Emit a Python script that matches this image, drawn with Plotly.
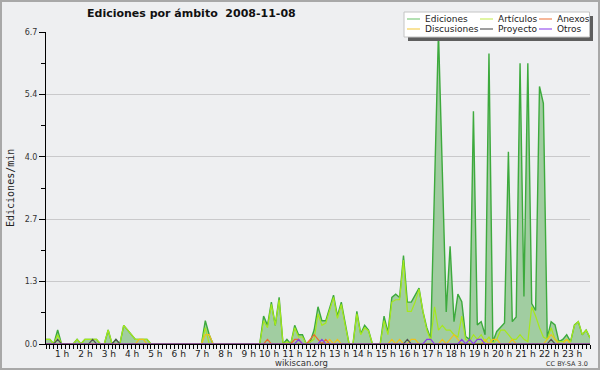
import plotly.graph_objects as go

# ---------------- data (10-minute slots, 2008-11-08) ----------------
TIME_SLOTS = list(range(141))  # slot index, 10 minutes each

ediciones = [
    0.1, 0.1, 0, 0.3, 0, 0, 0, 0, 0.1, 0,
    0.1, 0.1, 0.1, 0.1, 0, 0, 0.3, 0, 0.1, 0,
    0.4, 0.3, 0.2, 0.1, 0.1, 0.1, 0.1, 0, 0, 0,
    0, 0, 0, 0, 0, 0, 0, 0, 0, 0,
    0, 0.5, 0.2, 0, 0, 0, 0, 0, 0, 0,
    0, 0, 0, 0, 0, 0, 0.6, 0.4, 0.9, 0.4,
    1.0, 0, 0.1, 0, 0.4, 0.2, 0.2, 0, 0.05, 0.3,
    0.8, 0.5, 0.5, 0.75, 1.05, 0.6, 0.9, 0.45, 0, 0,
    0.7, 0.22, 0.4, 0.3, 0, 0, 0, 0.6, 0.25, 1.0,
    1.07, 1.0, 1.9, 0.9, 0.9, 1.05, 1.2, 0.7, 0.35, 0.12,
    3.4, 6.7, 3.7, 0.69, 2.1, 0.48, 1.07, 0.91, 0.16, 0.1,
    5.0, 0.41, 0.48, 0.2, 6.24, 0.05, 0.27, 0.35, 0.45, 4.13,
    0.48, 0.58, 6.03, 1.02, 6.03, 0.87, 0.72, 5.53, 5.17, 0.13,
    0.48, 0.41, 0.05, 0.1, 0.2, 0.05, 0.41, 0.48, 0.2, 0.3,
    0.13,
]

articulos = [
    0.1, 0.1, 0, 0.2, 0, 0, 0, 0, 0.1, 0,
    0.1, 0.1, 0.1, 0.1, 0, 0, 0.3, 0, 0, 0,
    0.4, 0.3, 0.2, 0.1, 0.1, 0.1, 0.1, 0, 0, 0,
    0, 0, 0, 0, 0, 0, 0, 0, 0, 0,
    0, 0.35, 0, 0, 0, 0, 0, 0, 0, 0,
    0, 0, 0, 0, 0, 0, 0.5, 0.35, 0.85, 0.4,
    0.95, 0, 0.05, 0, 0.35, 0.15, 0.15, 0, 0.05, 0.1,
    0.65, 0.4, 0.45, 0.7, 1.0, 0.55, 0.85, 0.4, 0, 0,
    0.65, 0.2, 0.35, 0.28, 0, 0, 0, 0.5, 0.2, 0.9,
    0.95, 0.95, 1.8, 0.7, 0.7, 0.9, 1.18, 0.7, 0.3, 0.08,
    0.8, 0.3, 0.4, 0.3, 0.3, 0.2, 0.15, 0.6, 0.1, 0.05,
    0.2, 0.1, 0.2, 0.05, 0.15, 0, 0.1, 0.3, 0.3, 0.2,
    0.1, 0.1, 0.2, 0.1, 0.05, 0.8, 0.6, 0.35, 0.15, 0.1,
    0.35, 0.1, 0.05, 0.05, 0.1, 0.05, 0.4, 0.48, 0.2, 0.3,
    0.13,
]

anexos = [
    0, 0, 0, 0, 0, 0, 0, 0, 0, 0, 0, 0, 0, 0, 0, 0, 0, 0, 0, 0,
    0, 0, 0, 0, 0, 0, 0, 0, 0, 0, 0, 0, 0, 0, 0, 0, 0, 0, 0, 0,
    0, 0, 0, 0, 0, 0, 0, 0, 0, 0, 0, 0, 0, 0, 0, 0, 0, 0.1, 0, 0,
    0, 0, 0, 0, 0.1, 0.1, 0, 0, 0.1, 0.2, 0.1, 0, 0.1, 0, 0, 0, 0, 0, 0, 0,
    0, 0, 0, 0, 0, 0, 0, 0, 0, 0, 0, 0, 0, 0, 0, 0, 0, 0, 0, 0,
    0, 0, 0, 0, 0, 0, 0, 0, 0, 0, 0, 0, 0, 0, 0, 0, 0, 0, 0, 0,
    0, 0, 0, 0, 0, 0, 0, 0, 0, 0, 0, 0, 0, 0, 0, 0, 0, 0, 0, 0,
    0,
]

discusiones = [
    0, 0, 0, 0, 0, 0, 0, 0, 0, 0, 0, 0, 0, 0, 0, 0, 0, 0, 0, 0,
    0, 0, 0, 0, 0.1, 0.1, 0, 0, 0, 0, 0, 0, 0, 0, 0, 0, 0, 0, 0, 0,
    0, 0.2, 0.2, 0, 0, 0, 0, 0, 0, 0, 0, 0, 0, 0, 0, 0, 0, 0, 0, 0,
    0, 0, 0, 0, 0, 0, 0, 0, 0, 0, 0, 0, 0, 0.1, 0, 0.1, 0, 0, 0, 0,
    0, 0, 0, 0, 0, 0, 0, 0, 0, 0.1, 0, 0.1, 0, 0, 0.1, 0.1, 0, 0, 0, 0,
    0, 0, 0.1, 0, 0.1, 0.2, 0.1, 0, 0, 0, 0, 0, 0, 0.1, 0, 0.1, 0.1, 0, 0, 0,
    0.1, 0, 0, 0, 0, 0, 0, 0, 0, 0.1, 0.2, 0.1, 0, 0, 0.1, 0, 0, 0, 0, 0,
    0,
]

proyecto = [
    0, 0, 0, 0.1, 0, 0, 0, 0, 0, 0, 0, 0, 0.1, 0, 0, 0, 0, 0, 0.1, 0,
    0, 0, 0, 0, 0, 0, 0, 0, 0, 0, 0, 0, 0, 0, 0, 0, 0, 0, 0, 0,
    0, 0, 0, 0, 0, 0, 0, 0, 0, 0, 0, 0, 0, 0, 0, 0, 0, 0, 0, 0,
    0, 0, 0, 0, 0, 0, 0, 0, 0, 0, 0, 0, 0, 0, 0, 0, 0, 0, 0, 0,
    0, 0, 0, 0, 0, 0, 0, 0, 0, 0, 0, 0, 0, 0.1, 0, 0, 0, 0, 0, 0,
    0, 0, 0, 0, 0, 0, 0, 0, 0, 0, 0, 0, 0, 0, 0, 0, 0, 0, 0, 0,
    0, 0, 0, 0, 0, 0, 0, 0, 0, 0, 0.1, 0, 0, 0, 0, 0, 0, 0, 0, 0,
    0,
]

otros = [
    0, 0, 0, 0, 0, 0, 0, 0, 0, 0, 0, 0, 0, 0, 0, 0, 0, 0, 0, 0,
    0, 0, 0, 0, 0, 0, 0, 0, 0, 0, 0, 0, 0, 0, 0, 0, 0, 0, 0, 0,
    0, 0, 0, 0, 0, 0, 0, 0, 0, 0, 0, 0, 0, 0, 0, 0, 0, 0, 0, 0,
    0, 0, 0, 0, 0, 0.1, 0, 0, 0, 0, 0, 0.1, 0, 0, 0, 0, 0, 0, 0, 0,
    0, 0, 0, 0, 0, 0, 0, 0, 0, 0, 0, 0, 0, 0, 0, 0, 0, 0, 0.1, 0.1,
    0, 0, 0, 0, 0, 0, 0, 0.1, 0, 0.1, 0, 0.1, 0.1, 0, 0, 0, 0, 0, 0, 0,
    0, 0, 0, 0, 0, 0, 0, 0, 0, 0, 0, 0, 0, 0, 0, 0, 0, 0, 0, 0,
    0,
]

HOUR_VALS = list(range(1, 24))
HOUR_LABELS = ["1 h", "2 h", "3 h", "4 h", "5 h", "6 h", "7 h", "8 h", "9 h", "10 h",
               "11 h", "12 h", "13 h", "14 h", "15 h", "16 h", "17 h", "18 h", "19 h",
               "20 h", "21 h", "22 h", "23 h"]
Y_TICK_VALS = [0, 1.34, 2.68, 4.02, 5.36, 6.7]
Y_TICK_TEXT = ["0.0", "1.3", "2.7", "4.0", "5.4", "6.7"]

SERIES_NAMES = ["Ediciones", "Artículos", "Anexos", "Discusiones", "Proyecto", "Otros"]

# ---------------- styling ----------------
W, H = 600, 370
L, R, T, B = 46, 10, 32, 26
PW, PH = W - L - R, H - T - B
BG = "#EEEFF1"

LINE_COLORS = {"Ediciones": "#3DAA3D", "Artículos": "#A6E81C", "Anexos": "#EE6A2C",
               "Discusiones": "#EEC21E", "Proyecto": "#505050", "Otros": "#8A3CE6"}
LEGEND_COLORS = {"Ediciones": "#80CC80", "Artículos": "#CCEE66", "Anexos": "#F08858",
                 "Discusiones": "#F6D058", "Proyecto": "#606060", "Otros": "#9A55EE"}


def px(xp):
    return (xp - L) / PW


def py(yp):
    return (H - B - yp) / PH


x_hours = [s / 6 for s in TIME_SLOTS]
# labels end at their hour tick: pad one-digit labels to the width of two-digit ones
tick_text = [("\u2007" + t) if len(t) == 3 else t for t in HOUR_LABELS]

fig = go.Figure()
fig.add_trace(go.Scatter(x=x_hours, y=ediciones, mode="lines", name="Ediciones",
                         line=dict(color=LINE_COLORS["Ediciones"], width=1.4),
                         fill="tozeroy", fillcolor="#A1CDA1", hoverinfo="skip"))
for name, vals in [("Artículos", articulos), ("Discusiones", discusiones),
                   ("Anexos", anexos), ("Proyecto", proyecto), ("Otros", otros)]:
    fig.add_trace(go.Scatter(x=x_hours, y=vals, mode="lines", name=name,
                             line=dict(color=LINE_COLORS[name], width=1.2),
                             hoverinfo="skip"))

fig.update_layout(
    width=W, height=H, autosize=False,
    margin=dict(l=L, r=R, t=T, b=B, pad=0),
    paper_bgcolor=BG, plot_bgcolor=BG, showlegend=False,
    font=dict(family="DejaVu Sans", size=9, color="#222"),
)
fig.update_xaxes(
    range=[0, 140 / 6], showgrid=False, zeroline=False,
    showline=True, linecolor="black", linewidth=1,
    tickmode="array", tickvals=HOUR_VALS, ticktext=tick_text,
    ticks="outside", ticklen=4, tickcolor="black", tickwidth=1,
    tickfont=dict(family="DejaVu Sans", size=9, color="#222"),
    ticklabelshift=-10, ticklabelstandoff=-3,
    minor=dict(dtick=1 / 6, tick0=0, ticks="outside", ticklen=4,
               tickcolor="black", showgrid=False),
)
fig.update_yaxes(
    range=[0, 6.7], tickmode="array", tickvals=Y_TICK_VALS, ticktext=Y_TICK_TEXT,
    showgrid=True, gridcolor="#C9C9CB", gridwidth=1, zeroline=False,
    showline=True, linecolor="black", linewidth=1,
    ticks="outside", ticklen=6, tickcolor="black",
    tickfont=dict(family="DejaVu Sans", size=8, color="#333"),
    minor=dict(dtick=0.67, tick0=0, ticks="outside", ticklen=4,
               tickcolor="black", showgrid=False),
)

shapes = []
annotations = []

# outer frame
shapes.append(dict(type="rect", xref="paper", yref="paper",
                   x0=px(1), x1=px(599), y0=py(1), y1=py(369),
                   line=dict(color="#A8A8A8", width=2), layer="above"))

# legend box with shadow
shapes.append(dict(type="rect", xref="paper", yref="paper",
                   x0=px(408), x1=px(593), y0=py(16), y1=py(41),
                   fillcolor="#5E5E5E", line=dict(width=0), layer="above"))
shapes.append(dict(type="rect", xref="paper", yref="paper",
                   x0=px(404), x1=px(589.5), y0=py(12), y1=py(37),
                   fillcolor="white", line=dict(color="#C4C4C4", width=1), layer="above"))

legend_layout = [("Ediciones", 407, 19), ("Artículos", 480, 19), ("Anexos", 539, 19),
                 ("Discusiones", 407, 29), ("Proyecto", 480, 29), ("Otros", 539, 29)]
for name, lx, ly in legend_layout:
    shapes.append(dict(type="line", xref="paper", yref="paper",
                       x0=px(lx), x1=px(lx + 13), y0=py(ly), y1=py(ly),
                       line=dict(color=LEGEND_COLORS[name], width=1.2), layer="above"))
    annotations.append(dict(xref="paper", yref="paper", x=px(lx + 16), y=py(ly),
                            text=name, showarrow=False, xanchor="left", yanchor="middle",
                            font=dict(family="DejaVu Sans", size=9, color="#222")))

# title
annotations.append(dict(xref="paper", yref="paper", x=px(85), y=py(14),
                        text="Ediciones por ámbito\u00a0 2008-11-08", showarrow=False,
                        xanchor="left", yanchor="middle",
                        font=dict(family="DejaVu Sans", size=11, color="#111", weight="bold")))
# y title
annotations.append(dict(xref="paper", yref="paper", x=px(10), y=py(188),
                        text="Ediciones/min", showarrow=False, textangle=-90,
                        xanchor="center", yanchor="middle",
                        font=dict(family="DejaVu Sans Mono", size=10, color="#222")))
# footer texts
annotations.append(dict(xref="paper", yref="paper", x=px(301), y=py(362.5),
                        text="wikiscan.org", showarrow=False, xanchor="center", yanchor="middle",
                        font=dict(family="DejaVu Sans", size=8.5, color="#333")))
annotations.append(dict(xref="paper", yref="paper", x=px(590), y=py(363.5),
                        text="CC BY-SA 3.0", showarrow=False, xanchor="right", yanchor="middle",
                        font=dict(family="DejaVu Sans", size=6.5, color="#333")))

fig.update_layout(shapes=shapes, annotations=annotations)
fig.write_html("out.html", config={"displayModeBar": False},
               post_script="document.body.style.margin='0';document.body.style.overflow='hidden';")
